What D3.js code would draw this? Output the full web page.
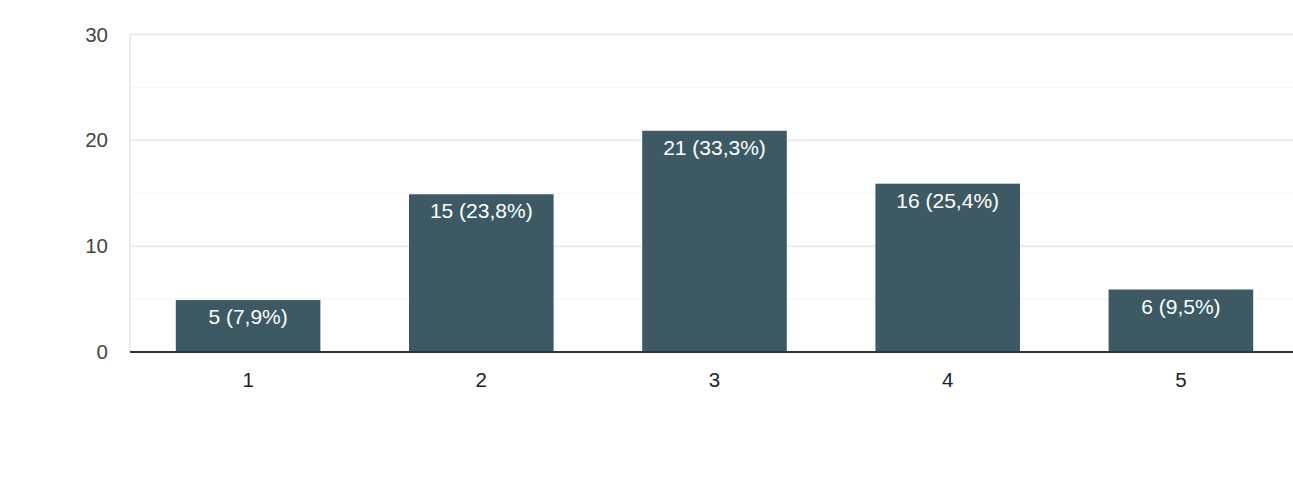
<!DOCTYPE html>
<html><head><meta charset="utf-8">
<script src="https://cdn.jsdelivr.net/npm/d3@7"></script>
<style>body{margin:0;background:#fff}svg{display:block;font-family:"Liberation Sans",Arial,sans-serif}</style>
</head><body><svg id="c" width="1293" height="484"></svg>
<script>
const categories = ["1","2","3","4","5"];
const values = [5, 15, 21, 16, 6];
const labels = ["5 (7,9%)","15 (23,8%)","21 (33,3%)","16 (25,4%)","6 (9,5%)"];
const yTicks = [0, 10, 20, 30];
const yMinor = [5, 15, 25];

const svg = d3.select("#c");
const m = {left:130, right:1293, top:34.5, bottom:352};
const x = d3.scaleBand().domain(categories).range([131.5, 1297.5]).paddingInner(0.38).paddingOuter(0.19);
const y = d3.scaleLinear().domain([0,30]).range([m.bottom, m.top]);

svg.append("g").selectAll("line").data(yMinor).join("line")
  .attr("x1", m.left).attr("x2", m.right).attr("y1", d=>y(d)).attr("y2", d=>y(d))
  .attr("stroke", "#f7f7f7").attr("stroke-width", 1.5);
svg.append("g").selectAll("line").data(yTicks.filter(d=>d>0)).join("line")
  .attr("x1", m.left).attr("x2", m.right).attr("y1", d=>y(d)).attr("y2", d=>y(d))
  .attr("stroke", "#ececec").attr("stroke-width", 2);
svg.append("line").attr("x1", m.left).attr("x2", m.left).attr("y1", m.top).attr("y2", m.bottom)
  .attr("stroke", "#ececec").attr("stroke-width", 2);

const yAxis = d3.axisLeft(y).tickValues(yTicks).tickSize(0).tickPadding(22);
const gy = svg.append("g").attr("transform", `translate(${m.left},0)`).call(yAxis);
gy.select(".domain").remove();
gy.selectAll("text").attr("font-size", 20.5).attr("fill", "#444").attr("font-family", '"Liberation Sans",Arial,sans-serif');

svg.append("g").selectAll("rect").data(values).join("rect")
  .attr("x", (d,i)=>x(categories[i])).attr("width", x.bandwidth())
  .attr("y", d=>y(d)+1).attr("height", d=>y(0)-y(d)-1).attr("fill", "#3d5a64");

svg.append("g").selectAll("text").data(values).join("text")
  .attr("x", (d,i)=>x(categories[i]) + x.bandwidth()/2).attr("y", d=>y(d)+25)
  .attr("text-anchor", "middle").attr("font-size", 21).attr("fill", "#fff")
  .text((d,i)=>labels[i]);

const xAxis = d3.axisBottom(x).tickSize(0).tickPadding(20);
const gx = svg.append("g").attr("transform", `translate(0,${m.bottom})`).call(xAxis);
gx.select(".domain").remove();
gx.selectAll("text").attr("font-size", 20.5).attr("fill", "#222").attr("font-family", '"Liberation Sans",Arial,sans-serif');
svg.append("line").attr("x1", m.left).attr("x2", m.right).attr("y1", m.bottom).attr("y2", m.bottom)
  .attr("stroke", "#333").attr("stroke-width", 2);
</script></body></html>
